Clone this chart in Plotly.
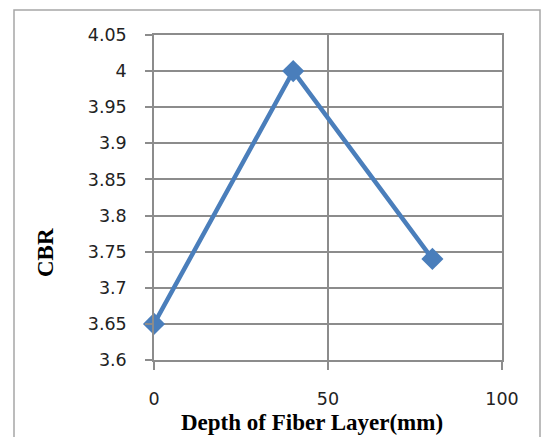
import plotly.graph_objects as go

depth = [0, 40, 80]
cbr = [3.65, 4.0, 3.74]
x_ticks = [0, 50, 100]
y_ticks = [3.6, 3.65, 3.7, 3.75, 3.8, 3.85, 3.9, 3.95, 4.0, 4.05]
y_tick_text = ["3.6", "3.65", "3.7", "3.75", "3.8", "3.85", "3.9", "3.95", "4", "4.05"]

W, H = 542, 437
L, R, T, B = 154, 40, 35, 77
pw, ph = W - L - R, H - T - B

def px(x):
    return (x - L) / pw

def py(y):
    return (H - B - y) / ph

fig = go.Figure()
fig.add_trace(go.Scatter(
    x=depth, y=cbr, mode="lines+markers",
    line=dict(color="#4A7EBB", width=4.5),
    marker=dict(symbol="diamond", size=17, color="#4A7EBB"),
    showlegend=False, cliponaxis=False,
))

grid = "#8C8C8C"
tickfont = dict(family="DejaVu Sans", size=17.5, color="#222222")
fig.update_xaxes(
    range=[0, 100], tickvals=x_ticks, ticktext=[str(v) for v in x_ticks],
    showgrid=True, gridcolor=grid, gridwidth=1.5,
    showline=True, linecolor=grid, linewidth=1.5, mirror=True,
    ticks="outside", ticklen=8, tickcolor=grid, tickwidth=1.5,
    tickfont=tickfont, ticklabelstandoff=14, zeroline=False,
)
fig.update_yaxes(
    range=[3.6, 4.05], tickvals=y_ticks, ticktext=y_tick_text,
    showgrid=True, gridcolor=grid, gridwidth=1.5,
    showline=True, linecolor=grid, linewidth=1.5, mirror=True,
    ticks="outside", ticklen=7, tickcolor=grid, tickwidth=1.5,
    tickfont=tickfont, ticklabelstandoff=15, zeroline=False,
)

titlefont = dict(family="Liberation Serif", size=23, color="#000000")
fig.add_annotation(
    text="<b>Depth of Fiber Layer(mm)</b>", xref="paper", yref="paper",
    x=px(312), y=py(422), showarrow=False, font=titlefont,
    xanchor="center", yanchor="middle",
)
fig.add_annotation(
    text="<b>CBR</b>", xref="paper", yref="paper",
    x=px(45), y=py(253), showarrow=False, font=titlefont, textangle=-90,
    xanchor="center", yanchor="middle",
)
fig.add_shape(
    type="rect", xref="paper", yref="paper",
    x0=px(14), x1=px(540), y0=py(445), y1=py(10),
    line=dict(color="#A6A6A6", width=1.5), layer="below",
)

fig.update_layout(
    width=W, height=H,
    margin=dict(l=L, r=R, t=T, b=B),
    plot_bgcolor="white", paper_bgcolor="white",
)
fig.write_html("out.html")
